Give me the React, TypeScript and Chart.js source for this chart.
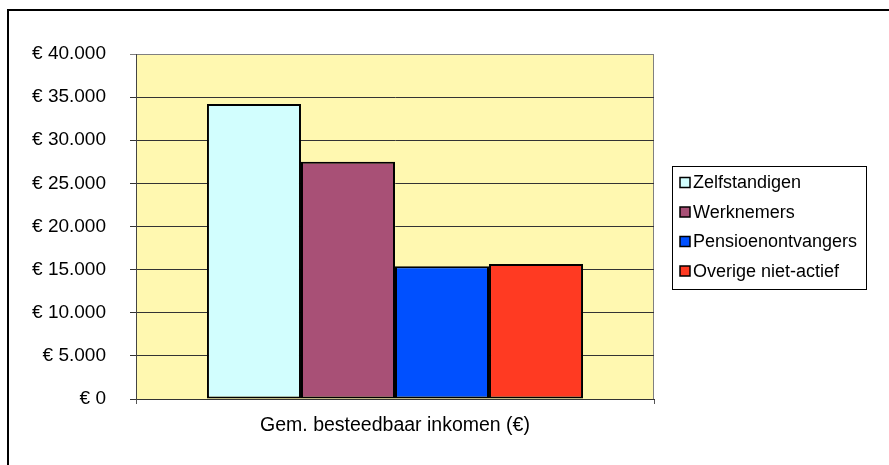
import React, { useEffect, useRef } from "react";
import { Chart, registerables } from "chart.js";

Chart.register(...registerables);

const categories = ["Gem. besteedbaar inkomen (€)"];
const seriesNames = ["Zelfstandigen", "Werknemers", "Pensioenontvangers", "Overige niet-actief"];
const zelfstandigen = [34200];
const werknemers = [27500];
const pensioenontvangers = [15400];
const overigeNietActief = [15650];
const seriesColors = ["#D2FEFE", "#A85076", "#0050FF", "#FF3A22"];
const yMin = 0;
const yMax = 40000;
const yStep = 5000;

const FONT = "Liberation Sans, Arial, sans-serif";
const AXIS_FONT_SIZE = 19;
const X_FONT_SIZE = 19.5;
const LEGEND_FONT_SIZE = 18;

function formatEuro(v: number): string {
  const s = Math.round(v).toString().replace(/\B(?=(\d{3})+(?!\d))/g, ".");
  return "€ " + s;
}

const bgPlugin = {
  id: "bgPlugin",
  beforeDraw(chart: any) {
    const { ctx, chartArea } = chart;
    ctx.save();
    ctx.fillStyle = "#FFF8B0";
    ctx.fillRect(chartArea.left, chartArea.top, chartArea.right - chartArea.left, chartArea.bottom - chartArea.top);
    ctx.strokeStyle = "#808080";
    ctx.lineWidth = 1;
    ctx.strokeRect(chartArea.left + 0.5, chartArea.top + 0.5, chartArea.right - chartArea.left - 1, chartArea.bottom - chartArea.top);
    ctx.restore();
  },
  afterDraw(chart: any) {
    const { ctx } = chart;
    ctx.save();
    // outer frame (top and left edges visible)
    ctx.strokeStyle = "#000";
    ctx.lineWidth = 2;
    ctx.beginPath();
    ctx.moveTo(8, 480);
    ctx.lineTo(8, 10);
    ctx.lineTo(900, 10);
    ctx.stroke();
    // legend
    const boxL = 672.5, boxT = 166.5, boxR = 866.5, boxB = 289.5;
    ctx.fillStyle = "#fff";
    ctx.fillRect(boxL, boxT, boxR - boxL, boxB - boxT);
    ctx.strokeStyle = "#000";
    ctx.lineWidth = 1;
    ctx.strokeRect(boxL, boxT, boxR - boxL, boxB - boxT);
    const rowY = [182.5, 212, 241.5, 271];
    ctx.font = `${LEGEND_FONT_SIZE}px ${FONT}`;
    ctx.textBaseline = "middle";
    ctx.textAlign = "left";
    const datasets = chart.data.datasets;
    datasets.forEach((ds: any, i: number) => {
      const y = rowY[i];
      ctx.fillStyle = ds.backgroundColor;
      ctx.fillRect(680, y - 5, 10, 10);
      ctx.strokeStyle = "#000";
      ctx.lineWidth = 1.5;
      ctx.strokeRect(680, y - 5, 10, 10);
      ctx.fillStyle = "#000";
      ctx.fillText(ds.label, 693, y + 1);
    });
    ctx.restore();
  },
};

export default function App() {
  const ref = useRef<HTMLCanvasElement | null>(null);
  useEffect(() => {
    document.body.style.margin = "0";
    const canvas = ref.current!;
    const seriesValues = [zelfstandigen, werknemers, pensioenontvangers, overigeNietActief];
    const chart = new Chart(canvas, {
      type: "bar",
      data: {
        labels: categories,
        datasets: seriesNames.map((name, i) => ({
          label: name,
          data: seriesValues[i],
          backgroundColor: seriesColors[i],
          borderColor: "#000",
          borderWidth: 2,
          borderSkipped: false,
          categoryPercentage: 0.726,
          barPercentage: 1.0,
        })),
      },
      options: {
        animation: false,
        responsive: false,
        devicePixelRatio: 1,
        layout: { padding: { left: 0, top: 54, right: 235, bottom: 0 } },
        plugins: { legend: { display: false }, tooltip: { enabled: false } },
        scales: {
          x: {
            grid: {
              display: true,
              drawOnChartArea: false,
              drawTicks: true,
              tickLength: 5,
              color: "#555",
              offset: true,
            },
            border: { display: true, color: "#333", width: 1 },
            ticks: {
              color: "#000",
              font: { family: FONT, size: X_FONT_SIZE },
              padding: 10,
            },
            afterFit(scale: any) {
              scale.height = 66;
            },
          },
          y: {
            min: yMin,
            max: yMax,
            grid: {
              color: (c: any) => (c.tick && c.tick.value === yMax ? "#808080" : "#333"),
              tickLength: 6,
              drawTicks: true,
            },
            border: { display: true, color: "#444", width: 1 },
            ticks: {
              stepSize: yStep,
              color: "#000",
              font: { family: FONT, size: AXIS_FONT_SIZE },
              padding: 24,
              callback: (v: any) => formatEuro(Number(v)),
            },
            afterFit(scale: any) {
              scale.width = 136;
            },
          },
        },
      },
      plugins: [bgPlugin],
    });
    return () => chart.destroy();
  }, []);
  return (
    <div style={{ width: 889, height: 465, position: "relative" }}>
      <canvas ref={ref} width={889} height={465} style={{ display: "block" }} />
    </div>
  );
}
